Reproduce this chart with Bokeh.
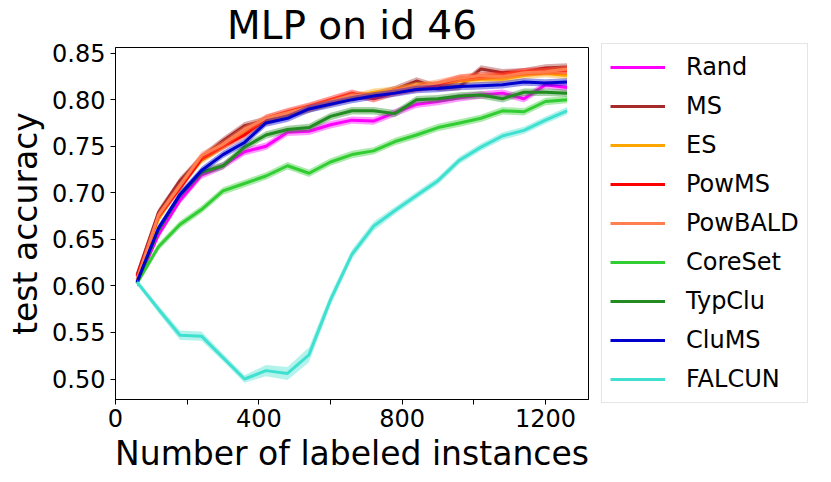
from bokeh.plotting import figure
from bokeh.models import Legend, LegendItem, FixedTicker, PrintfTickFormatter, Range1d
from bokeh.embed import file_html
from bokeh.resources import INLINE

# ---- data ----
n_labeled = [60, 120, 180, 240, 300, 360, 420, 480, 540, 600, 660,
             720, 780, 840, 900, 960, 1020, 1080, 1140, 1200, 1260]

rand = [0.603, 0.655, 0.692, 0.719, 0.729, 0.744, 0.750, 0.765, 0.766, 0.773, 0.778,
        0.777, 0.786, 0.795, 0.798, 0.802, 0.805, 0.807, 0.801, 0.816, 0.813]
ms = [0.612, 0.679, 0.713, 0.738, 0.756, 0.772, 0.778, 0.784, 0.790, 0.797, 0.803,
      0.805, 0.811, 0.820, 0.813, 0.814, 0.833, 0.829, 0.830, 0.834, 0.835]
es = [0.605, 0.672, 0.707, 0.735, 0.750, 0.765, 0.776, 0.785, 0.791, 0.797, 0.802,
      0.808, 0.810, 0.815, 0.816, 0.820, 0.822, 0.822, 0.826, 0.828, 0.826]
powms = [0.610, 0.675, 0.705, 0.737, 0.750, 0.762, 0.780, 0.787, 0.793, 0.800, 0.807,
         0.801, 0.808, 0.812, 0.816, 0.823, 0.825, 0.827, 0.830, 0.831, 0.831]
powbald = [0.607, 0.676, 0.708, 0.740, 0.752, 0.768, 0.780, 0.786, 0.792, 0.798, 0.805,
           0.804, 0.810, 0.814, 0.818, 0.823, 0.826, 0.825, 0.829, 0.830, 0.833]
coreset = [0.603, 0.642, 0.666, 0.682, 0.702, 0.710, 0.718, 0.729, 0.721, 0.733, 0.741,
           0.745, 0.755, 0.762, 0.770, 0.775, 0.780, 0.788, 0.787, 0.798, 0.800]
typclu = [0.603, 0.660, 0.698, 0.722, 0.729, 0.749, 0.762, 0.768, 0.770, 0.782, 0.788,
          0.788, 0.785, 0.800, 0.801, 0.804, 0.805, 0.801, 0.808, 0.808, 0.807]
clums = [0.604, 0.662, 0.698, 0.724, 0.741, 0.754, 0.775, 0.780, 0.790, 0.795, 0.800,
         0.804, 0.807, 0.811, 0.812, 0.814, 0.815, 0.816, 0.819, 0.818, 0.819]
falcun = [0.604, 0.575, 0.547, 0.546, 0.523, 0.500, 0.509, 0.506, 0.526, 0.585, 0.634,
          0.664, 0.681, 0.697, 0.713, 0.735, 0.749, 0.761, 0.767, 0.778, 0.788]

# band half-widths (standard error)
std_common = [0.004] * 21
std_falcun = [0.003, 0.004, 0.005, 0.005, 0.004, 0.004, 0.006, 0.007, 0.008, 0.006, 0.005,
              0.005, 0.004, 0.004, 0.004, 0.004, 0.004, 0.004, 0.004, 0.004, 0.004]

names = ["Rand", "MS", "ES", "PowMS", "PowBALD", "CoreSet", "TypClu", "CluMS", "FALCUN"]
series = [rand, ms, es, powms, powbald, coreset, typclu, clums, falcun]
stds = [std_common] * 8 + [std_falcun]
colors = ["#ff00ff", "#a52a2a", "#ffa500", "#ff0000", "#ff7f50",
          "#32cd32", "#228b22", "#0000cd", "#40e0d0"]

title_text = "MLP on id 46"
x_ticks = [0, 400, 800, 1200]
x_minor = [200, 600, 1000]
y_ticks = [0.50, 0.55, 0.60, 0.65, 0.70, 0.75, 0.80, 0.85]

p = figure(frame_width=473, frame_height=352,
           x_range=Range1d(0, 1320), y_range=Range1d(0.478, 0.856),
           output_backend="svg", toolbar_location=None, title=title_text)
p.min_border_left = 115
p.min_border_top = 47
p.min_border_bottom = 75
p.min_border_right = 0

p.title.text_font = "DejaVu Sans"
p.title.text_font_size = "39px"
p.title.text_font_style = "normal"
p.title.align = "center"
p.title.text_color = "black"
p.title.standoff = 0
p.title.offset = 0

p.grid.visible = False
p.outline_line_color = "black"
p.outline_line_width = 1
p.background_fill_color = "white"
p.border_fill_color = "white"

for ax in (p.xaxis[0], p.yaxis[0]):
    ax.axis_line_color = "black"
    ax.major_tick_line_color = "black"
    ax.minor_tick_line_color = "black"
    ax.major_tick_out = 5
    ax.major_tick_in = 0
    ax.major_label_text_font = "DejaVu Sans"
    ax.major_label_text_font_size = "24px"
    ax.major_label_text_color = "black"
    ax.axis_label_text_font = "DejaVu Sans"
    ax.axis_label_text_font_size = "33px"
    ax.axis_label_text_font_style = "normal"
    ax.axis_label_text_color = "black"

p.xaxis.ticker = FixedTicker(ticks=x_ticks, minor_ticks=x_minor)
p.xaxis.minor_tick_out = 5
p.xaxis.minor_tick_in = 0
p.xaxis.axis_label = "Number of labeled instances"
p.xaxis.major_label_standoff = 4
p.xaxis.axis_label_standoff = 4

p.yaxis.ticker = FixedTicker(ticks=y_ticks, minor_ticks=[])
p.yaxis.formatter = PrintfTickFormatter(format="%.2f")
p.yaxis.axis_label = "test accuracy"
p.yaxis.major_label_standoff = 5
p.yaxis.axis_label_standoff = 4

items = []
for name, ys, sd, c in zip(names, series, stds, colors):
    lo = [y - s for y, s in zip(ys, sd)]
    hi = [y + s for y, s in zip(ys, sd)]
    p.varea(x=n_labeled, y1=lo, y2=hi, fill_color=c, fill_alpha=0.4)
    r = p.line(x=n_labeled, y=ys, line_color=c, line_width=3)
    items.append(LegendItem(label=name, renderers=[r]))

legend = Legend(items=items)
legend.label_text_font = "DejaVu Sans"
legend.label_text_font_size = "24px"
legend.label_text_color = "black"
legend.glyph_width = 55
legend.glyph_height = 30
legend.label_height = 30
legend.label_standoff = 21
legend.spacing = 9
legend.padding = 8
legend.margin = 13
legend.border_line_color = "#cccccc"
legend.border_line_width = 1
legend.background_fill_alpha = 1.0
legend.location = "center_left"
p.add_layout(legend, "right")

open("out.html", "w").write(file_html(p, INLINE))
